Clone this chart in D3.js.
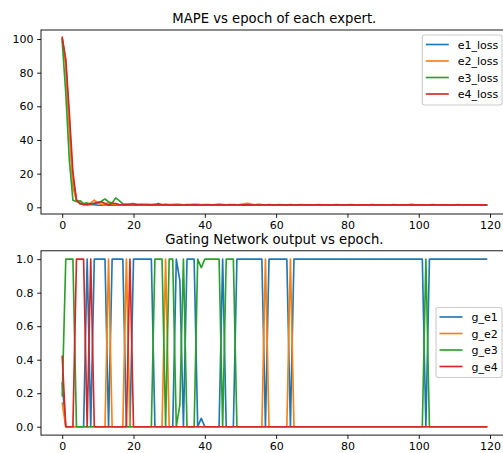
<!DOCTYPE html>
<html>
<head>
<meta charset="utf-8">
<script src="https://cdn.jsdelivr.net/npm/d3@7"></script>
<style>
body { margin: 0; background: #fff; }
text { font-family: "DejaVu Sans", sans-serif; fill: #000; }
</style>
</head>
<body>
<div id="chart"></div>
<script>
// epochs and tick labels
var epochs = d3.range(0, 120);
var xTicks = [0, 20, 40, 60, 80, 100, 120];
var lossTicks = [0, 20, 40, 60, 80, 100];
var gateTicks = [0.0, 0.2, 0.4, 0.6, 0.8, 1.0];

var lossNames = ['e1_loss', 'e2_loss', 'e3_loss', 'e4_loss'];
var gateNames = ['g_e1', 'g_e2', 'g_e3', 'g_e4'];
var colors = ['#1f77b4', '#ff7f0e', '#2ca02c', '#d62728'];

// MAPE per epoch
var e1Loss = [100.2, 86, 50, 16, 4.5, 2.2, 1.6, 1.5, 1.7, 1.6,
    1.2, 1.3, 1.5, 1.2, 1.4, 1.3, 1.2, 1.4, 1.3, 1.2,
    1.3, 1.2, 1.4, 1.3, 1.2, 1.3, 1.5, 2.3, 1.3, 1.2,
    1.3, 1.2, 1.2, 1.3, 1.2, 1.4, 1.2, 1.2, 1.3, 1.2,
    1.3, 1.2, 1.2, 1.3, 1.2, 1.2, 1.3, 1.2, 1.2, 1.3,
    1.2, 1.3, 1.2, 1.2, 1.4, 1.2, 1.2, 1.3, 1.2, 1.2,
    1.2, 1.3, 1.2, 1.2, 1.2, 1.3, 1.2, 1.2, 1.2, 1.2,
    1.3, 1.2, 1.2, 1.2, 1.2, 1.2, 1.3, 1.2, 1.2, 1.2,
    1.2, 1.2, 1.3, 1.2, 1.2, 1.2, 1.2, 1.3, 1.2, 1.2,
    1.2, 1.2, 1.2, 1.3, 1.2, 1.2, 1.2, 1.2, 1.3, 1.2,
    1.2, 1.2, 1.2, 1.2, 1.2, 1.3, 1.2, 1.2, 1.2, 1.2,
    1.2, 1.2, 1.3, 1.2, 1.2, 1.2, 1.2, 1.2, 1.2, 1.2];
var e2Loss = [100, 84, 46, 12, 3.6, 2.6, 1.9, 1.7, 2.6, 4.3,
    2.6, 1.8, 2.0, 2.9, 1.8, 1.6, 1.5, 1.6, 1.4, 1.5,
    1.4, 1.5, 1.6, 1.4, 1.5, 1.4, 1.6, 1.5, 1.4, 1.5,
    1.4, 1.5, 1.4, 1.6, 1.4, 1.5, 1.4, 1.5, 1.6, 1.4,
    1.5, 1.4, 1.5, 1.4, 1.6, 1.5, 1.4, 1.5, 1.4, 1.5,
    1.6, 2.1, 2.4, 1.8, 1.5, 1.4, 1.5, 1.4, 1.5, 1.4,
    1.4, 1.5, 1.4, 1.4, 1.5, 1.4, 1.4, 1.5, 1.4, 1.4,
    1.5, 1.4, 1.4, 1.4, 1.5, 1.4, 1.4, 1.4, 1.5, 1.4,
    1.4, 1.5, 1.4, 1.4, 1.4, 1.4, 1.5, 1.4, 1.4, 1.4,
    1.5, 1.4, 1.4, 1.4, 1.4, 1.5, 1.4, 1.4, 1.4, 1.4,
    1.4, 1.5, 1.4, 1.4, 1.4, 1.4, 1.4, 1.5, 1.4, 1.4,
    1.4, 1.4, 1.4, 1.5, 1.4, 1.4, 1.4, 1.4, 1.4, 1.4];
var e3Loss = [98.5, 68, 28, 4.2, 3.4, 3.9, 2.2, 2.6, 2.0, 2.3,
    2.6, 3.6, 5.0, 3.2, 2.6, 5.6, 4.0, 2.0, 1.9, 2.0,
    2.2, 1.8, 1.7, 1.6, 1.7, 1.6, 1.7, 1.6, 1.6, 1.7,
    1.6, 1.6, 1.7, 1.6, 1.5, 1.6, 1.6, 1.7, 1.6, 1.5,
    1.6, 1.6, 1.5, 1.6, 1.7, 1.6, 1.5, 1.6, 1.6, 1.5,
    1.6, 1.5, 1.6, 1.6, 1.5, 1.8, 1.6, 1.5, 1.6, 1.5,
    1.5, 1.6, 1.5, 1.5, 1.6, 1.5, 1.5, 1.6, 1.5, 1.5,
    1.5, 1.5, 1.6, 1.5, 1.5, 1.5, 1.5, 1.6, 1.5, 1.5,
    1.5, 1.6, 1.5, 1.5, 1.5, 1.5, 1.5, 1.6, 1.5, 1.5,
    1.5, 1.5, 1.5, 1.6, 1.5, 1.5, 1.5, 1.5, 1.7, 1.5,
    1.5, 1.5, 1.5, 1.5, 1.6, 1.5, 1.5, 1.5, 1.5, 1.5,
    1.5, 1.6, 1.5, 1.5, 1.5, 1.5, 1.5, 1.5, 1.5, 1.5];
var e4Loss = [101, 88, 56, 21, 4.2, 2.2, 1.7, 1.6, 2.0, 2.4,
    3.0, 3.3, 2.2, 1.5, 2.4, 2.2, 1.6, 1.5, 1.4, 1.5,
    1.5, 1.4, 1.5, 1.6, 1.4, 1.5, 1.4, 1.5, 1.4, 1.5,
    1.4, 1.5, 1.4, 1.4, 1.5, 1.4, 1.5, 1.4, 1.4, 1.5,
    1.4, 1.4, 1.5, 1.4, 1.4, 1.5, 1.4, 1.4, 1.4, 1.5,
    1.4, 1.4, 1.5, 1.4, 1.4, 1.4, 1.5, 1.4, 1.4, 1.4,
    1.5, 1.4, 1.4, 1.4, 1.4, 1.5, 1.4, 1.4, 1.4, 1.4,
    1.4, 1.5, 1.4, 1.4, 1.4, 1.4, 1.4, 1.5, 1.4, 1.4,
    1.4, 1.4, 1.4, 1.4, 1.5, 1.4, 1.4, 1.4, 1.4, 1.4,
    1.4, 1.5, 1.4, 1.4, 1.4, 1.4, 1.4, 1.4, 1.5, 1.4,
    1.4, 1.4, 1.4, 1.4, 1.4, 1.5, 1.4, 1.4, 1.4, 1.4,
    1.4, 1.4, 1.4, 1.4, 1.4, 1.4, 1.5, 1.4, 1.4, 1.3];

// gating network output per epoch
var gE1 = [0.26, 0, 0, 0, 0, 0, 0, 1, 0, 1,
    1, 1, 1, 0, 1, 1, 1, 1, 0, 0,
    1, 1, 1, 1, 1, 1, 0, 0, 0, 0,
    0, 0, 1, 0.87, 0, 1, 1, 1, 0, 0.05,
    0, 0, 0, 0, 0, 1, 0, 0, 0, 1,
    1, 1, 1, 1, 1, 1, 1, 0, 1, 1,
    1, 1, 1, 1, 0, 1, 1, 1, 1, 1,
    1, 1, 1, 1, 1, 1, 1, 1, 1, 1,
    1, 1, 1, 1, 1, 1, 1, 1, 1, 1,
    1, 1, 1, 1, 1, 1, 1, 1, 1, 1,
    1, 1, 0, 1, 1, 1, 1, 1, 1, 1,
    1, 1, 1, 1, 1, 1, 1, 1, 1, 1];
var gE2 = [0.14, 0, 0, 0, 0, 0, 0, 0, 0, 0,
    0, 0, 0, 1, 0, 0, 0, 0, 1, 0,
    0, 0, 0, 0, 0, 0, 0, 0, 0, 1,
    0, 0, 0, 0, 0, 0, 0, 0, 0, 0,
    0, 0, 0, 0, 0, 0, 0, 0, 0, 0,
    0, 0, 0, 0, 0, 0, 0, 1, 0, 0,
    0, 0, 0, 0, 1, 0, 0, 0, 0, 0,
    0, 0, 0, 0, 0, 0, 0, 0, 0, 0,
    0, 0, 0, 0, 0, 0, 0, 0, 0, 0,
    0, 0, 0, 0, 0, 0, 0, 0, 0, 0,
    0, 0, 0, 0, 0, 0, 0, 0, 0, 0,
    0, 0, 0, 0, 0, 0, 0, 0, 0, 0];
var gE3 = [0.185, 1, 1, 1, 0, 0, 0, 0, 0, 0,
    0, 0, 0, 0, 0, 0, 0, 0, 0, 0,
    0, 0, 0, 0, 0, 0, 1, 1, 1, 0,
    1, 1, 0, 0.13, 1, 0, 0, 0, 1, 0.95,
    1, 1, 1, 1, 1, 0, 1, 1, 1, 0,
    0, 0, 0, 0, 0, 0, 0, 0, 0, 0,
    0, 0, 0, 0, 0, 0, 0, 0, 0, 0,
    0, 0, 0, 0, 0, 0, 0, 0, 0, 0,
    0, 0, 0, 0, 0, 0, 0, 0, 0, 0,
    0, 0, 0, 0, 0, 0, 0, 0, 0, 0,
    0, 0, 1, 0, 0, 0, 0, 0, 0, 0,
    0, 0, 0, 0, 0, 0, 0, 0, 0, 0];
var gE4 = [0.42, 0, 0, 0, 1, 1, 1, 0, 1, 0,
    0, 0, 0, 0, 0, 0, 0, 0, 0, 1,
    0, 0, 0, 0, 0, 0, 0, 0, 0, 0,
    0, 0, 0, 0, 0, 0, 0, 0, 0, 0,
    0, 0, 0, 0, 0, 0, 0, 0, 0, 0,
    0, 0, 0, 0, 0, 0, 0, 0, 0, 0,
    0, 0, 0, 0, 0, 0, 0, 0, 0, 0,
    0, 0, 0, 0, 0, 0, 0, 0, 0, 0,
    0, 0, 0, 0, 0, 0, 0, 0, 0, 0,
    0, 0, 0, 0, 0, 0, 0, 0, 0, 0,
    0, 0, 0, 0, 0, 0, 0, 0, 0, 0,
    0, 0, 0, 0, 0, 0, 0, 0, 0, 0];

var W = 503, H = 453;
var fs = 11;
var svg = d3.select('#chart').append('svg')
    .attr('width', W)
    .attr('height', H);
svg.append('rect').attr('width', W).attr('height', H).attr('fill', '#fff');

function drawPanel(opt){
    var x = d3.scaleLinear().domain([-5.95, 124.95]).range([opt.left, opt.right]);
    var y = d3.scaleLinear().domain(opt.yDomain).range([opt.bottom, opt.top]);
    var g = svg.append('g');

    //lines, first series underneath
    var line = d3.line()
        .x(function(d, i){ return x(epochs[i]); })
        .y(function(d){ return y(d); });
    opt.series.forEach(function(s, i){
        g.append('path')
            .datum(s)
            .attr('d', line)
            .attr('fill', 'none')
            .attr('stroke', colors[i])
            .attr('stroke-width', 1.65)
            .attr('stroke-linejoin', 'round')
            .attr('stroke-linecap', 'square');
    });

    //frame
    g.append('rect')
        .attr('x', opt.left)
        .attr('y', opt.top)
        .attr('width', opt.right - opt.left)
        .attr('height', opt.bottom - opt.top)
        .attr('fill', 'none')
        .attr('stroke', '#000')
        .attr('stroke-width', 0.9);

    //axes
    var xAxis = d3.axisBottom(x).tickValues(xTicks).tickSize(3.85).tickPadding(3.3)
        .tickFormat(d3.format('d'));
    var gx = g.append('g').attr('transform', 'translate(0,' + opt.bottom + ')').call(xAxis);
    var yAxis = d3.axisLeft(y).tickValues(opt.yTicks).tickSize(3.85).tickPadding(3.6)
        .tickFormat(opt.fmt);
    var gy = g.append('g').attr('transform', 'translate(' + opt.left + ',0)').call(yAxis);
    [gx, gy].forEach(function(a){
        a.select('.domain').remove();
        a.selectAll('line').attr('stroke', '#000').attr('stroke-width', 0.9);
        a.selectAll('text')
            .attr('fill', '#000')
            .style('font-family', '"DejaVu Sans", sans-serif')
            .style('font-size', fs + 'px');
    });

    //title
    g.append('text')
        .attr('x', (opt.left + opt.right) / 2)
        .attr('y', opt.top - 6.6)
        .attr('text-anchor', 'middle')
        .style('font-size', (fs * 1.2) + 'px')
        .text(opt.title);

    //legend
    var lg = g.append('g').attr('transform', 'translate(' + opt.legX + ',' + opt.legY + ')');
    var rowH = 16.5;
    lg.append('rect')
        .attr('x', 0)
        .attr('y', 0)
        .attr('width', opt.legW)
        .attr('height', rowH * opt.names.length + 4)
        .attr('rx', 2.5)
        .attr('fill', '#fff')
        .attr('fill-opacity', 0.8)
        .attr('stroke', '#cccccc')
        .attr('stroke-width', 1.1);
    opt.names.forEach(function(n, i){
        var cy = 9.5 + i * rowH;
        lg.append('line')
            .attr('x1', 3.5).attr('x2', 26.5)
            .attr('y1', cy).attr('y2', cy)
            .attr('stroke', colors[i])
            .attr('stroke-width', 1.65);
        lg.append('text')
            .attr('x', 35.5)
            .attr('y', cy + 4)
            .style('font-size', fs + 'px')
            .text(n);
    });
}

drawPanel({
    left: 41, right: 507.7, top: 30, bottom: 214,
    yDomain: [-3.98, 105.35], yTicks: lossTicks, fmt: d3.format('d'),
    series: [e1Loss, e2Loss, e3Loss, e4Loss],
    names: lossNames, title: 'MAPE vs epoch of each expert.',
    legX: 422.3, legY: 35, legW: 79.7
});

drawPanel({
    left: 41, right: 507.7, top: 250.8, bottom: 435.1,
    yDomain: [-0.05, 1.05], yTicks: gateTicks, fmt: d3.format('.1f'),
    series: [gE1, gE2, gE3, gE4],
    names: gateNames, title: 'Gating Network output vs epoch.',
    legX: 436, legY: 307.5, legW: 66
});
</script>
</body>
</html>
